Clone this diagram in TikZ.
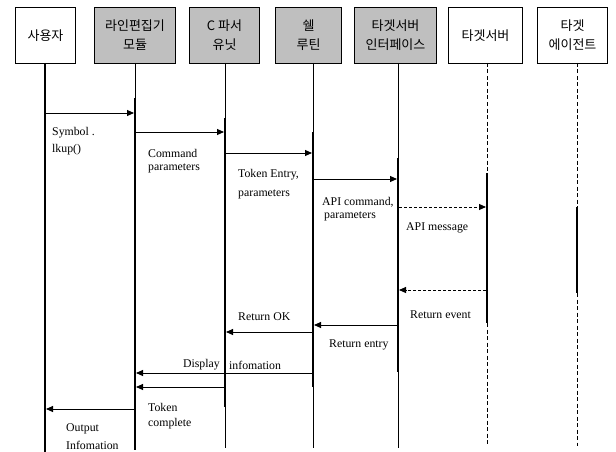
\documentclass[tikz,border=0pt]{standalone}
\usepackage{fontspec}
\setmainfont{Liberation Serif}
\newfontfamily\krfont{Noto Sans CJK KR}
\usetikzlibrary{arrows.meta}
\begin{document}
\begin{tikzpicture}[x=1pt,y=-1pt,
  hdr/.style={draw, line width=1pt, minimum height=56pt, inner sep=0pt,
    font=\krfont\fontsize{13}{19}\selectfont, align=center, anchor=north west},
  graybox/.style={hdr, fill=black!25},
  lthin/.style={line width=0.8pt},
  lthick/.style={line width=2.4pt},
  ldash/.style={line width=1pt, dash pattern=on 4pt off 2.5pt},
  msg/.style={line width=0.9pt, -{Triangle[length=7pt,width=6pt]}},
  dmsg/.style={msg, dash pattern=on 3pt off 2pt},
  lbl/.style={font=\fontsize{11.8}{14}\selectfont, inner sep=0pt, anchor=west, align=left}]
\useasboundingbox (0,0) rectangle (616,452);

% header boxes
\node[hdr, minimum width=60pt] (u) at (15,7) {사용자};
\node[graybox, minimum width=81pt] (l) at (94,7) {라인편집기\\모듈};
\node[graybox, minimum width=70pt] (c) at (189,7) {C 파서\\유닛};
\node[graybox, minimum width=66pt] (s) at (275,7) {쉘\\루틴};
\node[graybox, minimum width=82pt] (i) at (354,7) {타겟서버\\인터페이스};
\node[hdr, minimum width=74pt] (t) at (448,7) {타겟서버};
\node[hdr, minimum width=70pt] (a) at (537,7) {타겟\\에이전트};

% lifeline coordinates
\coordinate (u0) at (45,63);  \coordinate (u9) at (45,452);
\coordinate (l0) at (135,63); \coordinate (l1) at (135,98); \coordinate (l9) at (135,450);
\coordinate (c0) at (225,63); \coordinate (c1) at (225,118); \coordinate (c2) at (225,407); \coordinate (c9) at (225,448);
\coordinate (s0) at (313,63); \coordinate (s1) at (313,132); \coordinate (s2) at (313,387); \coordinate (s9) at (313,448);
\coordinate (i0) at (398,63); \coordinate (i1) at (398,158); \coordinate (i2) at (398,372); \coordinate (i9) at (398,448);
\coordinate (t0) at (487,63); \coordinate (t1) at (487,173); \coordinate (t2) at (487,323); \coordinate (t9) at (487,446);
\coordinate (a0) at (577,63); \coordinate (a1) at (577,207); \coordinate (a2) at (577,293); \coordinate (a9) at (577,446);

% lifelines
\draw[lthick] (u0) -- (u9);
\draw[lthin] (l0) -- (l1); \draw[lthick] (l1) -- (l9);
\draw[lthin] (c0) -- (c1); \draw[lthick] (c1) -- (c2); \draw[lthin] (c2) -- (c9);
\draw[lthin] (s0) -- (s1); \draw[lthick] (s1) -- (s2); \draw[lthin] (s2) -- (s9);
\draw[lthin] (i0) -- (i1); \draw[lthick] (i1) -- (i2); \draw[lthin] (i2) -- (i9);
\draw[ldash] (t0) -- (t1); \draw[lthick] (t1) -- (t2); \draw[ldash] (t2) -- (t9);
\draw[ldash] (a0) -- (a1); \draw[lthick] (a1) -- (a2); \draw[ldash] (a2) -- (a9);

% message endpoints
\coordinate (m1a) at (46,113);  \coordinate (m1b) at (134,113);
\coordinate (m2a) at (136,132); \coordinate (m2b) at (224,132);
\coordinate (m3a) at (226,153); \coordinate (m3b) at (312,153);
\coordinate (m4a) at (314,179); \coordinate (m4b) at (397,179);
\coordinate (m5a) at (399,207); \coordinate (m5b) at (486,207);
\coordinate (m6a) at (486,290); \coordinate (m6b) at (399,290);
\coordinate (m7a) at (397,325); \coordinate (m7b) at (314,325);
\coordinate (m8a) at (312,332); \coordinate (m8b) at (226,332);
\coordinate (m9a) at (312,373); \coordinate (m9b) at (136,373);
\coordinate (m10a) at (224,387); \coordinate (m10b) at (136,387);
\coordinate (m11a) at (134,409); \coordinate (m11b) at (46,409);

% messages
\draw[msg] (m1a) -- (m1b);
\draw[msg] (m2a) -- (m2b);
\draw[msg] (m3a) -- (m3b);
\draw[msg] (m4a) -- (m4b);
\draw[dmsg] (m5a) -- (m5b);
\draw[dmsg] (m6a) -- (m6b);
\draw[msg] (m7a) -- (m7b);
\draw[msg] (m8a) -- (m8b);
\draw[msg] (m9a) -- (m9b);
\draw[msg] (m10a) -- (m10b);
\draw[msg] (m11a) -- (m11b);

% labels
\node[lbl] (lab1) at (52,133) {Symbol .};
\node[lbl] (lab1b) at (52,150) {lkup()};
\node[lbl] (lab2) at (148,153) {Command};
\node[lbl] (lab2b) at (148,168) {parameters};
\node[lbl] (lab3) at (238,175) {Token Entry,};
\node[lbl] (lab3b) at (238,194) {parameters};
\node[lbl] (lab4) at (322,202) {API command,};
\node[lbl] (lab4b) at (324,216) {parameters};
\node[lbl] (lab5) at (406,228) {API message};
\node[lbl] (lab6) at (410,315) {Return event};
\node[lbl] (lab7) at (329,345) {Return entry};
\node[lbl] (lab8) at (238,317) {Return OK};
\node[lbl, anchor=east] (lab9) at (220,365) {Display};
\node[lbl] (lab9b) at (229,365) {infomation};
\node[lbl] (lab10) at (148,407) {Token};
\node[lbl] (lab10b) at (148,424) {complete};
\node[lbl] (lab11) at (66,429) {Output};
\node[lbl] (lab11b) at (66,445) {Infomation};
\end{tikzpicture}
\end{document}
